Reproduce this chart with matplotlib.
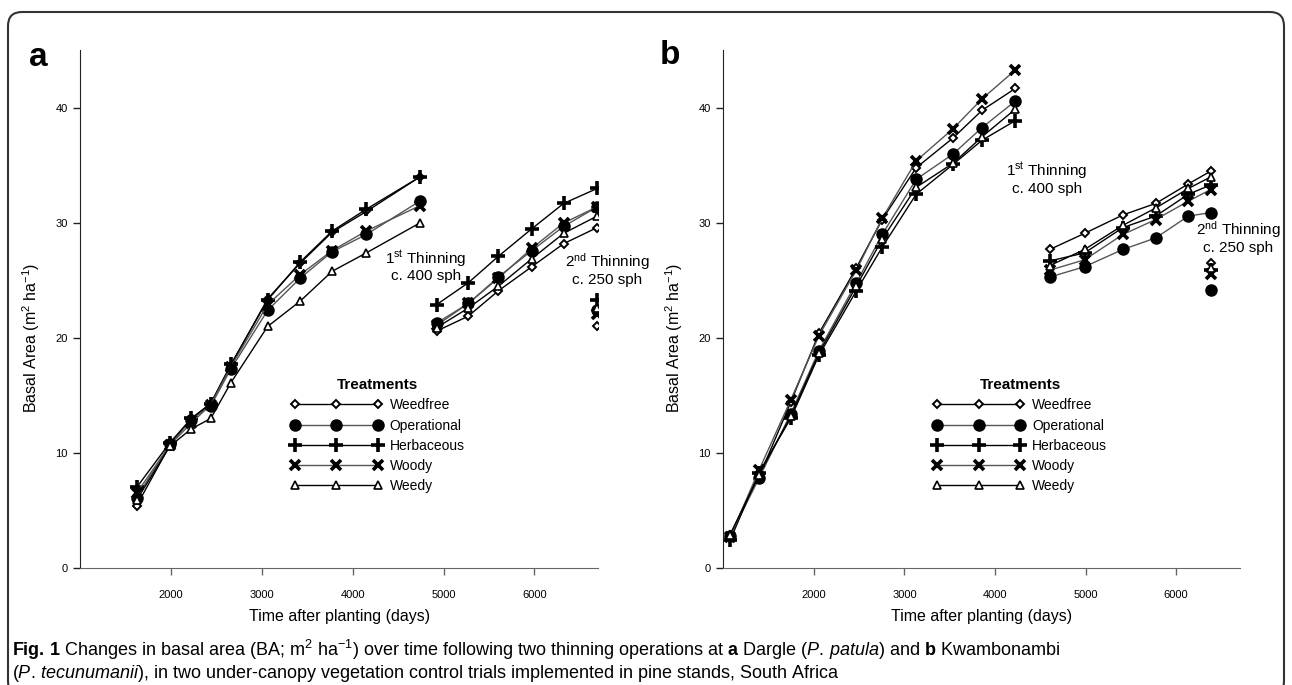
import matplotlib
matplotlib.use('Agg')
import matplotlib.pyplot as plt
from matplotlib.patches import FancyBboxPatch
from matplotlib import font_manager

# caption font: narrow if it is there
names = {f.name for f in font_manager.fontManager.ttflist}
cap_font = 'Liberation Sans Narrow' if 'Liberation Sans Narrow' in names else 'Liberation Sans'

plt.rcParams['font.family'] = ['Liberation Sans', 'DejaVu Sans']
plt.rcParams['mathtext.fontset'] = 'custom'
plt.rcParams['mathtext.rm'] = cap_font
plt.rcParams['mathtext.it'] = cap_font + ':italic'
plt.rcParams['mathtext.bf'] = cap_font + ':bold'

treatments = ['Weedfree', 'Operational', 'Herbaceous', 'Woody', 'Weedy']

# ---- a: Dargle ----
a_days_1 = [1619, 1987, 2222, 2436, 2657, 3062, 3420, 3773, 4149, 4738]
a_days_2 = [4923, 5272, 5603, 5972, 6322, 6691]
a_days_3 = [6691]
a_ba_1 = [
    [5.4, 10.7, 13.0, 14.3, 17.6, 23.4, 26.5, 29.2, 31.0, 34.0],
    [6.1, 10.8, 12.9, 14.1, 17.3, 22.4, 25.2, 27.5, 29.0, 31.9],
    [7.0, 10.9, 13.0, 14.3, 17.7, 23.3, 26.6, 29.3, 31.2, 34.0],
    [6.5, 10.7, 12.6, 14.2, 17.5, 22.9, 25.5, 27.6, 29.3, 31.5],
    [5.9, 10.6, 12.1, 13.0, 16.1, 21.0, 23.2, 25.8, 27.4, 30.0],
]
a_ba_2 = [
    [20.6, 21.9, 24.1, 26.2, 28.2, 29.6],
    [21.3, 23.0, 25.3, 27.6, 29.7, 31.4],
    [22.9, 24.8, 27.1, 29.5, 31.7, 33.0],
    [21.1, 23.0, 25.2, 27.8, 30.0, 31.4],
    [20.9, 22.6, 24.5, 26.9, 29.1, 30.6],
]
a_ba_3 = [[21.0], [22.4], [23.3], [22.1], [22.6]]

# ---- b: Kwambonambi ----
b_days_1 = [1074, 1393, 1743, 2055, 2468, 2754, 3129, 3537, 3857, 4224]
b_days_2 = [4605, 4989, 5412, 5774, 6135, 6380]
b_days_3 = [6380]
b_ba_1 = [
    [2.9, 7.9, 14.4, 20.4, 26.1, 30.3, 34.8, 37.4, 39.8, 41.7],
    [2.8, 7.8, 13.4, 18.9, 24.8, 29.0, 33.8, 36.0, 38.3, 40.6],
    [2.4, 8.3, 13.0, 18.5, 24.1, 27.9, 32.5, 35.1, 37.2, 38.9],
    [2.7, 8.5, 14.6, 20.2, 25.9, 30.4, 35.4, 38.2, 40.8, 43.3],
    [2.9, 8.1, 13.2, 18.7, 24.5, 28.6, 33.1, 35.2, 37.5, 39.9],
]
b_ba_2 = [
    [27.7, 29.1, 30.7, 31.7, 33.4, 34.5],
    [25.3, 26.2, 27.7, 28.7, 30.6, 30.9],
    [26.7, 27.4, 29.6, 30.6, 32.5, 33.3],
    [25.9, 26.8, 29.0, 30.3, 31.9, 32.9],
    [26.3, 27.7, 29.8, 31.3, 33.0, 34.0],
]
b_ba_3 = [[26.5], [24.2], [25.9], [25.6], [26.1]]

# marker style per treatment
styles = [
    dict(marker='D', ms=4.5, mfc='white', mec='black', mew=1.4, color='black'),
    dict(marker='o', ms=8, mfc='black', mec='black', color='#555555'),
    dict(marker='+', ms=10, mec='black', mew=2.6, color='black'),
    dict(marker='x', ms=7.5, mec='black', mew=2.6, color='#555555'),
    dict(marker='^', ms=6, mfc='white', mec='black', mew=1.2, color='black'),
]


def draw_panel(ax, days1, ba1, days2, ba2, days3, ba3, thin1_xy, thin2_xy):
    for i, name in enumerate(treatments):
        st = styles[i]
        ax.plot(days1, ba1[i], lw=1, label=name, **st)
        ax.plot(days2, ba2[i], lw=1, **st)
        ax.plot(days3, ba3[i], lw=0, **st)

    ax.set_xlim(1000, 6700)
    ax.set_ylim(0, 45)
    ax.set_xticks([2000, 3000, 4000, 5000, 6000])
    ax.set_yticks([0, 10, 20, 30, 40])
    ax.spines['top'].set_visible(False)
    ax.spines['right'].set_visible(False)
    ax.spines['left'].set_color('#222222')
    ax.spines['bottom'].set_color('#666666')
    ax.tick_params(axis='y', length=5, width=1, labelsize=8, pad=4, color='#222222')
    ax.tick_params(axis='x', length=5, width=1, labelsize=8, pad=11, color='#666666')

    ax.set_xlabel('Time after planting (days)', fontsize=11.5, labelpad=6)
    ax.set_ylabel('Basal Area (m$^2$ ha$^{-1}$)', fontsize=11.5)
    ax.yaxis.set_label_coords(-0.074, 0.444)

    ax.text(thin1_xy[0], thin1_xy[1], '1$^{\\mathrm{st}}$ Thinning\nc. 400 sph', ha='center',
            va='center', fontsize=11, linespacing=1.05)
    ax.text(thin2_xy[0], thin2_xy[1], '2$^{\\mathrm{nd}}$ Thinning\nc. 250 sph', ha='center',
            va='center', fontsize=11, linespacing=1.05)

    leg = ax.legend(loc='upper left', bbox_to_anchor=(0.406, 0.367), frameon=False,
                    numpoints=3, handlelength=6.6, handletextpad=0.55, labelspacing=0.45,
                    borderpad=0, borderaxespad=0, fontsize=10, title='Treatments',
                    title_fontproperties={'weight': 'bold', 'size': 11})
    return leg


fig = plt.figure(figsize=(12.92, 6.85), dpi=100)
ax_a = fig.add_axes([0.0622, 0.1708, 0.4006, 0.7555])
ax_b = fig.add_axes([0.5599, 0.1708, 0.3995, 0.7555])

draw_panel(ax_a, a_days_1, a_ba_1, a_days_2, a_ba_2, a_days_3, a_ba_3, (4804, 26.3), (6804, 26.0))
draw_panel(ax_b, b_days_1, b_ba_1, b_days_2, b_ba_2, b_days_3, b_ba_3, (4572, 33.9), (6683, 28.8))

fig.text(29 / 1292, 1 - 57 / 685, 'a', fontsize=24, fontweight='bold', va='center', ha='left')
fig.text(660 / 1292, 1 - 55 / 685, 'b', fontsize=24, fontweight='bold', va='center', ha='left')

# rounded frame round the whole figure
frame = FancyBboxPatch((8, -10), 1276, 683, boxstyle='round,pad=0,rounding_size=14',
                       transform=None, fill=False, ec='#333333', lw=1.5)
fig.patches.append(frame)

cap1 = (r'$\mathbf{Fig.\,1}$ Changes in basal area (BA; m$^{2}$ ha$^{-1}$) over time following two '
        r'thinning operations at $\mathbf{a}$ Dargle ($\mathit{P.\,patula}$) and $\mathbf{b}$ Kwambonambi')
cap2 = (r'($\mathit{P.\,tecunumanii}$), in two under-canopy vegetation control trials implemented '
        r'in pine stands, South Africa')
fig.text(12 / 1292, 1 - 650 / 685, cap1, fontsize=13, family=cap_font, va='center', ha='left')
fig.text(12 / 1292, 1 - 673 / 685, cap2, fontsize=13, family=cap_font, va='center', ha='left')

fig.savefig('out.png', dpi=100)
